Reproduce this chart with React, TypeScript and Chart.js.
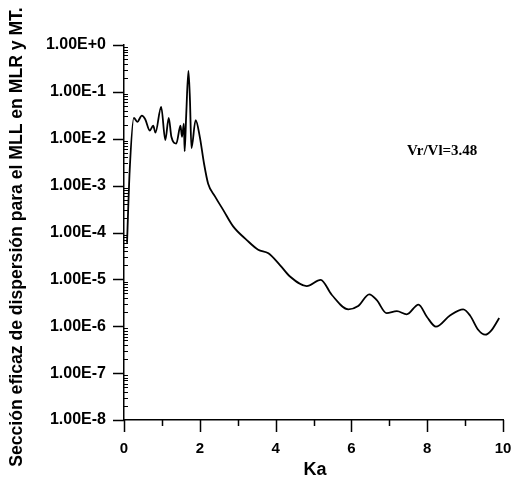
import React, { useEffect, useRef } from "react";
import { Chart, registerables } from "chart.js";

Chart.register(...registerables);

const ka: number[] = [
  0.08, 0.15, 0.26, 0.35, 0.47, 0.56, 0.68, 0.77, 0.83, 0.98, 1.09, 1.18, 1.25,
  1.38, 1.49, 1.53, 1.58, 1.6, 1.64, 1.7, 1.74, 1.78, 1.89, 2.0, 2.11, 2.22,
  2.4, 2.62, 2.88, 3.24, 3.54, 3.81, 4.12, 4.38, 4.82, 5.19, 5.48, 5.92, 6.18,
  6.47, 6.67, 6.93, 7.2, 7.46, 7.77, 7.99, 8.23, 8.6, 8.95, 9.13, 9.35, 9.53,
  9.7, 9.9,
];

const sigma: number[] = [
  6e-5, 2.1e-3, 0.028, 0.023, 0.031, 0.026, 0.015, 0.019, 0.0135, 0.048,
  0.0094, 0.028, 0.011, 0.0079, 0.019, 0.011, 0.021, 0.0054, 0.03, 0.28,
  0.068, 0.0063, 0.025, 0.011, 0.003, 1.1e-3, 5.9e-4, 3.0e-4, 1.35e-4, 6.9e-5,
  4.3e-5, 3.6e-5, 2.0e-5, 1.15e-5, 7.2e-6, 9.8e-6, 4.7e-6, 2.3e-6, 2.7e-6,
  4.8e-6, 3.6e-6, 1.9e-6, 2.1e-6, 1.8e-6, 2.9e-6, 1.6e-6, 9.8e-7, 1.7e-6,
  2.3e-6, 1.7e-6, 8.3e-7, 6.6e-7, 8.3e-7, 1.5e-6,
];

const xTicks: number[] = [0, 2, 4, 6, 8, 10];
const xMinorTicks: number[] = [1, 3, 5, 7, 9];
const yTicks: number[] = [1, 1e-1, 1e-2, 1e-3, 1e-4, 1e-5, 1e-6, 1e-7, 1e-8];

const yTitle = "Sección eficaz de dispersión para el MLL en MLR y MT.";
const xTitle = "Ka";
const note = "Vr/Vl=3.48";

const SANS = "'Liberation Sans', Arial, sans-serif";
const SERIF = "'Liberation Serif', 'Times New Roman', serif";

const decorPlugin = {
  id: "decor",
  afterDraw(chart: any) {
    const { ctx, chartArea } = chart;
    const xs = chart.scales.x;
    const ys = chart.scales.y;
    const { left, bottom } = chartArea;
    ctx.save();
    ctx.strokeStyle = "#000";
    ctx.fillStyle = "#000";
    ctx.lineWidth = 1.5;
    ctx.beginPath();
    for (const v of yTicks) {
      const y = Math.round(ys.getPixelForValue(v)) + 0.5;
      ctx.moveTo(left - 11, y);
      ctx.lineTo(left, y);
    }
    for (const v of xTicks) {
      const x = Math.round(xs.getPixelForValue(v)) + 0.5;
      ctx.moveTo(x, bottom);
      ctx.lineTo(x, bottom + 12);
    }
    for (const v of xMinorTicks) {
      const x = Math.round(xs.getPixelForValue(v)) + 0.5;
      ctx.moveTo(x, bottom);
      ctx.lineTo(x, bottom + 6);
    }
    ctx.stroke();
    ctx.lineWidth = 1;
    ctx.beginPath();
    for (let e = -8; e < 0; e++) {
      for (let k = 2; k <= 9; k++) {
        const y = Math.round(ys.getPixelForValue(k * Math.pow(10, e))) + 0.5;
        ctx.moveTo(left, y);
        ctx.lineTo(left + 4, y);
      }
    }
    ctx.stroke();

    ctx.save();
    ctx.translate(22, 237);
    ctx.rotate(-Math.PI / 2);
    ctx.font = `bold 17.6px ${SANS}`;
    ctx.textAlign = "center";
    ctx.textBaseline = "alphabetic";
    ctx.fillText(yTitle, 0, 0);
    ctx.restore();

    ctx.font = `bold 18px ${SANS}`;
    ctx.textAlign = "center";
    ctx.textBaseline = "alphabetic";
    ctx.fillText(xTitle, 315, 475);

    ctx.font = `bold 15px ${SERIF}`;
    ctx.textAlign = "left";
    ctx.fillText(note, 407, 155);
    ctx.restore();
  },
};

export default function App() {
  const ref = useRef<HTMLCanvasElement | null>(null);

  useEffect(() => {
    if (!ref.current) return;
    const chart = new Chart(ref.current, {
      type: "line",
      data: {
        datasets: [
          {
            data: ka.map((x, i) => ({ x, y: sigma[i] })),
            borderColor: "#000",
            borderWidth: 1.8,
            pointRadius: 0,
            cubicInterpolationMode: "monotone",
            fill: false,
          },
        ],
      },
      options: {
        responsive: false,
        animation: false,
        layout: { padding: { top: 45, right: 10, left: 0, bottom: 0 } },
        plugins: {
          legend: { display: false },
          tooltip: { enabled: false },
        },
        scales: {
          x: {
            type: "linear",
            min: 0,
            max: 10,
            afterBuildTicks: (s: any) => {
              s.ticks = xTicks.map((v) => ({ value: v }));
            },
            afterFit: (s: any) => {
              s.height = 60;
              s.paddingLeft = 0;
              s.paddingRight = 0;
            },
            grid: { display: true, drawOnChartArea: false, drawTicks: false },
            border: { display: true, color: "#000", width: 1.5 },
            ticks: {
              padding: 20,
              color: "#000",
              maxRotation: 0,
              font: { family: SANS, size: 15, weight: "bold" },
            },
          },
          y: {
            type: "logarithmic",
            min: 1e-8,
            max: 1,
            afterBuildTicks: (s: any) => {
              s.ticks = yTicks.map((v) => ({ value: v }));
            },
            afterFit: (s: any) => {
              s.width = 124;
              s.paddingTop = 0;
              s.paddingBottom = 0;
            },
            grid: { display: true, drawOnChartArea: false, drawTicks: false },
            border: { display: true, color: "#000", width: 1.5 },
            ticks: {
              padding: 18,
              color: "#000",
              font: { family: SANS, size: 16, weight: "bold" },
              callback: (v: any) => {
                const e = Math.round(Math.log10(Number(v)));
                return `1.00E${e >= 0 ? "+" : ""}${e}`;
              },
            },
          },
        },
      },
      plugins: [decorPlugin],
    });
    return () => chart.destroy();
  }, []);

  return (
    <div
      style={{
        position: "fixed",
        left: 0,
        top: 0,
        width: 513,
        height: 480,
        background: "#fff",
      }}
    >
      <canvas ref={ref} width={513} height={480} style={{ width: 513, height: 480 }} />
    </div>
  );
}
